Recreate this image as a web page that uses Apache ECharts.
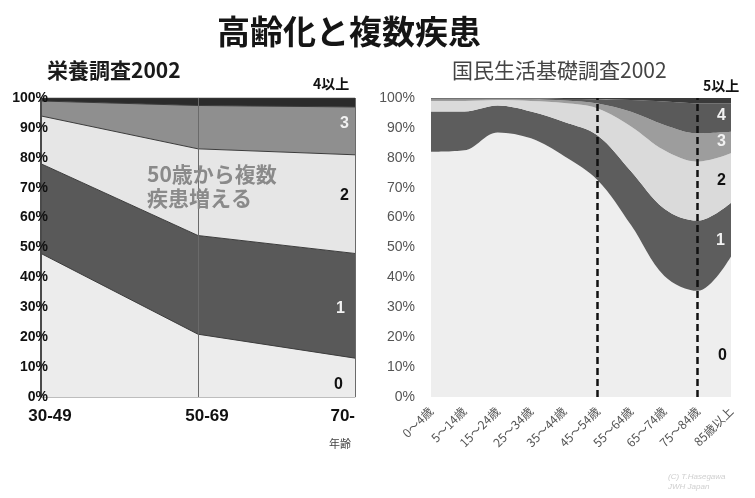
<!DOCTYPE html>
<html>
<head>
<meta charset="utf-8">
<script src="https://cdn.jsdelivr.net/npm/echarts@6/dist/echarts.min.js"></script>
<style>
  html, body { margin: 0; padding: 0; background: #fff; }
  #chart { width: 755px; height: 498px; }
</style>
</head>
<body>
<div id="chart"></div>
<script>
// 栄養調査2002: share of people by number of diseases, per age band (%)
const leftCats = ['30-49', '50-69', '70-'];
const leftNames = ['0', '1', '2', '3', '4以上'];
const left0 = [48, 21, 13];
const left1 = [30, 33, 35];
const left2 = [16, 29, 33];
const left3 = [5, 14.5, 16];
const left4 = [1, 2.5, 3];

// 国民生活基礎調査2002: same breakdown over ten age bands (%)
const rightCats = ['0～4歳', '5～14歳', '15～24歳', '25～34歳', '35～44歳',
                   '45～54歳', '55～64歳', '65～74歳', '75～84歳', '85歳以上'];
const rightNames = ['0', '1', '2', '3', '4', '5以上'];
const right0 = [82, 82.5, 88.5, 86.5, 80.5, 72.5, 57.5, 40.5, 35.5, 47];
const right1 = [13.5, 13, 9, 9, 11.5, 15, 18, 22.5, 23.5, 18];
const right2 = [3.5, 3.5, 1.8, 3.5, 6.3, 9, 15, 19.5, 19.7, 16.5];
const right3 = [0.5, 0.5, 0.3, 0.5, 0.9, 1.7, 4.9, 8.5, 9.5, 7.2];
const right4 = [0.3, 0.3, 0.2, 0.3, 0.5, 1.4, 3.9, 7.8, 10, 9.5];
const right5 = [0.2, 0.2, 0.2, 0.2, 0.3, 0.4, 0.7, 1.2, 1.8, 1.8];

// age bands marked with dashed guides
const markedBands = ['45～54歳', '75～84歳'];

const yTicks = [0, 10, 20, 30, 40, 50, 60, 70, 80, 90, 100];

const leftData = [left0, left1, left2, left3, left4];
const rightData = [right0, right1, right2, right3, right4, right5];
const leftColors = ['#ececec', '#595959', '#e6e6e6', '#8f8f8f', '#2b2b2b'];
const rightColors = ['#eeeeee', '#5d5d5d', '#dadada', '#9d9d9d', '#5a5a5a', '#3a3a3a'];

const numFont = "'Liberation Sans', 'Noto Sans CJK JP', sans-serif";
const jpFont = "'Noto Sans CJK JP', 'Liberation Sans', sans-serif";

const series = [];
leftData.forEach((vals, i) => {
  series.push({
    name: leftNames[i],
    type: 'line',
    xAxisIndex: 0, yAxisIndex: 0,
    stack: 'left',
    data: vals,
    symbol: 'none',
    lineStyle: { width: 1, color: '#3c3c3c' },
    areaStyle: { color: leftColors[i], opacity: 1 },
    silent: true,
    z: 2
  });
});
rightData.forEach((vals, i) => {
  const s = {
    name: rightNames[i],
    type: 'line',
    xAxisIndex: 1, yAxisIndex: 1,
    stack: 'right',
    data: vals,
    symbol: 'none',
    smooth: 0.35,
    lineStyle: { width: 0 },
    areaStyle: { color: rightColors[i], opacity: 1 },
    silent: true,
    z: 2
  };
  if (i === rightData.length - 1) {
    s.markLine = {
      symbol: 'none',
      silent: true,
      z: 5,
      label: { show: false },
      lineStyle: { color: '#111', width: 2.5, type: [7, 4] },
      data: markedBands.map(b => ({ xAxis: b }))
    };
  }
  series.push(s);
});

const textEl = (x, y, text, fill, font, extra) => ({
  type: 'text', left: x, top: y, z: 100, silent: true,
  style: Object.assign({ text, fill, font }, extra || {})
});
const insideLabel = (x, y, text, color) => textEl(x, y, text, color, "bold 16px " + numFont);

const chart = echarts.init(document.getElementById('chart'), null, { renderer: 'canvas' });
chart.setOption({
  backgroundColor: '#ffffff',
  animation: false,
  title: [
    { text: '高齢化と複数疾患', left: 212, top: 10,
      textStyle: { fontFamily: jpFont, fontSize: 33, fontWeight: 'bold', color: '#151515' } },
    { text: '栄養調査2002', left: 42, top: 55,
      textStyle: { fontFamily: jpFont, fontSize: 21, fontWeight: 'bold', color: '#1a1a1a' } },
    { text: '国民生活基礎調査2002', left: 447, top: 55,
      textStyle: { fontFamily: jpFont, fontSize: 21, fontWeight: 'normal', color: '#444' } }
  ],
  grid: [
    { left: 41, right: 400, top: 98, bottom: 101 },
    { left: 431, right: 24, top: 98, bottom: 101 }
  ],
  xAxis: [
    {
      gridIndex: 0, type: 'category', data: leftCats, boundaryGap: false,
      axisLine: { show: true, lineStyle: { color: '#bdbdbd', width: 1 } },
      axisTick: { show: false },
      splitLine: { show: true, lineStyle: { color: '#6a6a6a', width: 1 } },
      axisLabel: {
        margin: 11, fontFamily: numFont, fontSize: 17, fontWeight: 'bold', color: '#111',
        padding: [0, 0, 0, 18], alignMaxLabel: 'right'
      },
      z: 3
    },
    {
      gridIndex: 1, type: 'category', data: rightCats, boundaryGap: false,
      axisLine: { show: false },
      axisTick: { show: false },
      splitLine: { show: false },
      axisLabel: {
        rotate: 45, margin: 12, interval: 0,
        fontFamily: jpFont, fontSize: 12, color: '#555'
      }
    }
  ],
  yAxis: [
    {
      gridIndex: 0, type: 'value', min: 0, max: 100, interval: 10,
      axisLine: { show: true, lineStyle: { color: '#4a4a4a', width: 2 } },
      axisTick: { show: false },
      splitLine: { show: false },
      axisLabel: {
        margin: -7, fontFamily: numFont, fontSize: 14, fontWeight: 'bold', color: '#111',
        formatter: v => yTicks.includes(v) ? v + '%' : ''
      },
      z: 3
    },
    {
      gridIndex: 1, type: 'value', min: 0, max: 100, interval: 10,
      axisLine: { show: false },
      axisTick: { show: false },
      splitLine: { show: false },
      axisLabel: {
        margin: 16, fontFamily: numFont, fontSize: 14, color: '#555',
        formatter: v => yTicks.includes(v) ? v + '%' : ''
      }
    }
  ],
  series,
  graphic: {
    elements: [
      // left panel series names
      textEl(313, 77, '4以上', '#111', "bold 14px " + jpFont),
      insideLabel(340, 116, '3', '#f2f2f2'),
      insideLabel(340, 188, '2', '#111'),
      insideLabel(336, 301, '1', '#f2f2f2'),
      insideLabel(334, 377, '0', '#111'),
      textEl(147, 162, '50歳から複数\n疾患増える', '#8a8a8a', "bold 21px " + jpFont, { lineHeight: 24 }),
      textEl(329, 438, '年齢', '#444', "11px " + jpFont),
      // right panel series names
      textEl(703, 79, '5以上', '#111', "bold 14px " + jpFont),
      insideLabel(717, 108, '4', '#f2f2f2'),
      insideLabel(717, 134, '3', '#f2f2f2'),
      insideLabel(717, 173, '2', '#111'),
      insideLabel(716, 233, '1', '#f2f2f2'),
      insideLabel(718, 348, '0', '#111'),
      // credit line
      textEl(668, 472, '(C) T.Hasegawa\nJWH Japan', '#cfcfcf', "italic 8px " + numFont, { lineHeight: 10 })
    ]
  }
});
</script>
</body>
</html>
